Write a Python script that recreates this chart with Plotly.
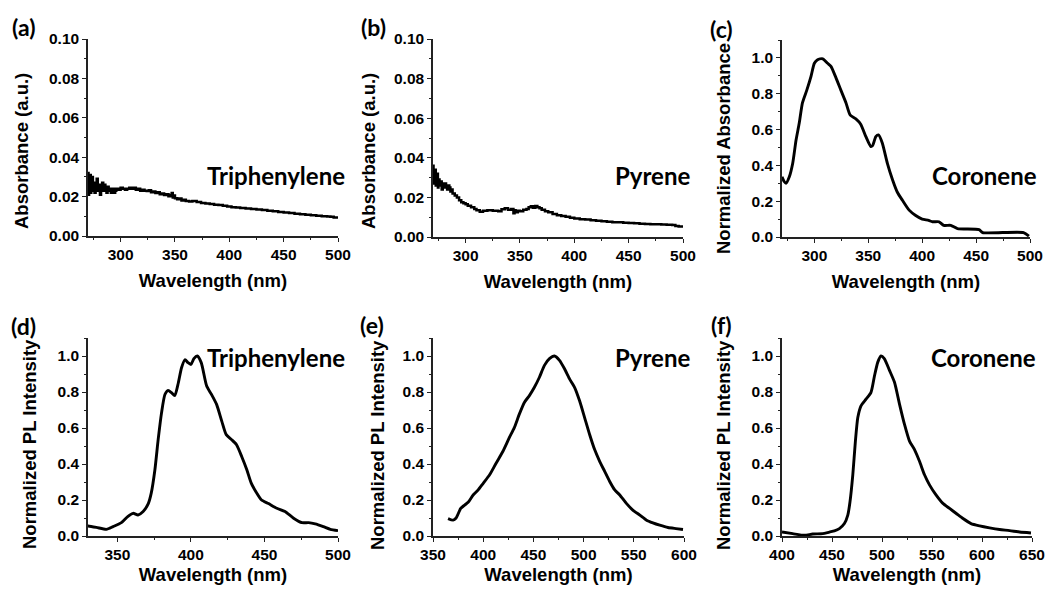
import plotly.graph_objects as go

W, H = 1046, 590

# ---------------- data ----------------
# (a) Triphenylene absorbance
tri_abs_wl = [270, 270.5, 271, 271.5, 272, 272.5, 273, 273.5, 274, 274.5, 275, 276, 277, 278, 279, 280,
              281, 282, 283, 284, 285, 286, 287, 288, 289, 290, 291, 292, 293, 294, 295, 296, 298,
              300, 302, 304, 306, 308, 310, 312, 314, 316, 318, 320, 322, 324, 326, 328, 330, 332,
              334, 336, 338, 340, 342, 344, 346, 347, 348, 349, 350, 352, 354, 356, 358, 360, 363,
              366, 370, 374, 378, 382, 386, 390, 394, 398, 402, 406, 410, 415, 420, 425, 430, 435,
              440, 445, 450, 455, 460, 465, 470, 475, 480, 485, 490, 493, 496, 500]
tri_abs = [0.032, 0.021, 0.030, 0.024, 0.031, 0.022, 0.028, 0.025, 0.030, 0.023, 0.027, 0.022, 0.026,
           0.029, 0.023, 0.026, 0.021, 0.025, 0.027, 0.023, 0.026, 0.024, 0.022, 0.025, 0.023, 0.024,
           0.022, 0.023, 0.024, 0.022, 0.023, 0.024, 0.0235,
           0.0245, 0.024, 0.0235, 0.024, 0.0245, 0.024, 0.0245, 0.0235, 0.024, 0.023, 0.0235, 0.023,
           0.0228, 0.0232, 0.0222, 0.0226, 0.0218, 0.0222, 0.0212, 0.0216, 0.0208, 0.0212, 0.0202,
           0.0208, 0.0218, 0.0196, 0.0205, 0.0192, 0.0186, 0.0190, 0.0180, 0.0184, 0.0178, 0.0175,
           0.0178, 0.0172, 0.0168, 0.0165, 0.0162, 0.0158, 0.0157, 0.0153, 0.0150, 0.0146, 0.0145,
           0.0142, 0.0140, 0.0137, 0.0135, 0.0132, 0.0128, 0.0126, 0.0122, 0.0119, 0.0117, 0.0113,
           0.0111, 0.0108, 0.0105, 0.0103, 0.0100, 0.0099, 0.0098, 0.0094, 0.0092]

# (b) Pyrene absorbance
pyr_abs_wl = [270, 270.5, 271, 271.5, 272, 272.5, 273, 273.5, 274, 274.5, 275, 276, 277, 278, 279, 280,
              281, 282, 283, 284, 285, 286, 287, 288, 290, 292, 294, 296, 298, 300, 302, 305, 308,
              310, 313, 316, 320, 325, 330, 333, 336, 339, 342, 344, 345, 346, 348, 350, 353, 356,
              358, 360, 362, 364, 366, 368, 370, 373, 376, 380, 384, 388, 392, 396, 400, 405, 410,
              415, 420, 425, 430, 435, 440, 445, 450, 455, 460, 465, 470, 475, 480, 485, 490, 493,
              496, 500]
pyr_abs = [0.036, 0.027, 0.033, 0.028, 0.034, 0.026, 0.031, 0.027, 0.032, 0.025, 0.029, 0.026, 0.028,
           0.024, 0.027, 0.025, 0.027, 0.026, 0.024, 0.026, 0.025, 0.023, 0.024, 0.022, 0.021, 0.020,
           0.0185, 0.0175, 0.017, 0.0165, 0.0158, 0.015, 0.0142,
           0.0135, 0.0128, 0.0133, 0.0135, 0.0133, 0.0130, 0.0140, 0.0145, 0.0138, 0.0142, 0.0120,
           0.0135, 0.0125, 0.0133, 0.0130, 0.0138, 0.0142, 0.0150, 0.0155, 0.0148, 0.0156, 0.0150,
           0.0145, 0.0138, 0.0130, 0.0125, 0.0116, 0.0110, 0.0106, 0.0102, 0.0097, 0.0093, 0.0090,
           0.0088, 0.0085, 0.0082, 0.0080, 0.0077, 0.0075, 0.0074, 0.0072, 0.0071, 0.0069, 0.0067,
           0.0066, 0.0065, 0.0064, 0.0063, 0.0062, 0.0060, 0.0056, 0.0053, 0.0050]

# (c) Coronene normalized absorbance
cor_abs_wl = [270, 272, 273.7, 276.8, 279.9, 283, 286, 289, 293, 296.9, 300, 303, 307.7, 312.3, 315.4,
              320, 324.6, 329.3, 333.3, 338.5, 343, 347.8, 352.4, 354, 357, 359.5, 363, 367.8, 372.5,
              377, 381.7, 387.9, 394, 400, 406, 409.5, 415.7, 420, 426.5, 432.7, 452.7, 456, 494,
              499]
cor_abs = [0.336, 0.31, 0.30, 0.336, 0.41, 0.54, 0.636, 0.75, 0.82, 0.897, 0.97, 0.99, 0.995, 0.97,
           0.953, 0.89, 0.82, 0.75, 0.68, 0.66, 0.63, 0.56, 0.505, 0.51, 0.56, 0.57, 0.525, 0.41,
           0.32, 0.25, 0.205, 0.15, 0.12, 0.10, 0.093, 0.085, 0.085, 0.065, 0.065, 0.047, 0.041,
           0.025, 0.025, 0.005]

# (d) Triphenylene PL
tri_pl_wl = [325, 330, 335.7, 342.5, 347, 352.7, 357, 360.7, 364, 367.5, 371, 373, 375.5, 377.7, 380,
             382.3, 384.5, 386.8, 389, 391.4, 393.6, 396, 398, 400, 402, 404.3, 407, 410.7, 414,
             417.5, 421, 424, 427.7, 431, 434.5, 438, 441, 444.8, 448, 452.7, 458.4, 464, 469.8,
             475.5, 480, 484.5, 490, 494.8, 500]
tri_pl = [0.06, 0.056, 0.048, 0.037, 0.052, 0.074, 0.108, 0.126, 0.117, 0.136, 0.18, 0.238, 0.368,
          0.535, 0.684, 0.786, 0.809, 0.796, 0.78, 0.85, 0.935, 0.98, 0.963, 0.953, 0.985, 1.0, 0.963,
          0.833, 0.786, 0.73, 0.637, 0.563, 0.535, 0.507, 0.442, 0.368, 0.294, 0.238, 0.2, 0.18,
          0.154, 0.136, 0.099, 0.074, 0.074, 0.067, 0.052, 0.037, 0.03]

# (e) Pyrene PL
pyr_pl_wl = [365, 370, 373, 377.6, 381.5, 385, 390, 395, 400, 406.4, 413, 419.7, 426, 431, 436, 441,
             446, 451, 456, 461, 466, 471, 476, 481, 486, 491, 496, 501, 506, 511, 516, 521, 526,
             531, 536, 542.6, 549, 556, 562.7, 569, 575.8, 584, 592, 599]
pyr_pl = [0.097, 0.088, 0.1, 0.153, 0.172, 0.187, 0.228, 0.256, 0.293, 0.34, 0.406, 0.471, 0.546,
          0.602, 0.677, 0.742, 0.78, 0.826, 0.882, 0.948, 0.985, 1.0, 0.976, 0.929, 0.873, 0.826,
          0.751, 0.658, 0.564, 0.48, 0.415, 0.359, 0.303, 0.256, 0.228, 0.181, 0.144, 0.116, 0.088,
          0.073, 0.06, 0.047, 0.041, 0.036]

# (f) Coronene PL
cor_pl_wl = [400, 410.7, 422.4, 430.7, 440.7, 447.4, 452.4, 457.4, 462.4, 465.8, 468, 470.8, 473.4,
             475.8, 479, 484, 489, 492.5, 495.8, 499, 502.3, 507.5, 512.5, 517.5, 522.5, 527.5, 532.5,
             537.5, 542.5, 547.5, 554, 560.9, 567.6, 574.3, 581, 589, 597.6, 607.6, 617.6, 627.6,
             637.6, 649]
cor_pl = [0.022, 0.013, 0.004, 0.011, 0.013, 0.022, 0.028, 0.041, 0.069, 0.116, 0.19, 0.34, 0.527,
          0.658, 0.723, 0.76, 0.798, 0.89, 0.966, 1.0, 0.985, 0.92, 0.854, 0.733, 0.62, 0.527, 0.48,
          0.415, 0.34, 0.284, 0.228, 0.181, 0.153, 0.125, 0.097, 0.069, 0.056, 0.045, 0.036, 0.030,
          0.022, 0.017]

panel_labels = ["(a)", "(b)", "(c)", "(d)", "(e)", "(f)"]
compound_names = ["Triphenylene", "Pyrene", "Coronene", "Triphenylene", "Pyrene", "Coronene"]
y_titles = ["Absorbance (a.u.)", "Absorbance (a.u.)", "Normalized Absorbance",
            "Normalized PL Intensity", "Normalized PL Intensity", "Normalized PL Intensity"]
x_title = "Wavelength (nm)"

# ---------------- layout geometry (pixels) ----------------
boxes = [  # x0, x1, y0(top), y1(bottom)
    (88, 338, 39, 236),
    (433, 683, 39, 237),
    (782, 1030, 40, 237),
    (88, 338, 338, 536),
    (433, 684, 338, 536),
    (782, 1032, 338, 536),
]
x_ranges = [(270, 500), (270, 500), (270, 500), (330, 500), (350, 600), (400, 650)]
y_ranges = [(0, 0.10), (0, 0.10), (0, 1.1), (0, 1.1), (0, 1.1), (0, 1.1)]
y_dticks = [0.02, 0.02, 0.2, 0.2, 0.2, 0.2]
y_formats = [".2f", ".2f", ".1f", ".1f", ".1f", ".1f"]
label_pos = [(23, 27), (373, 27), (721, 29), (23, 326), (372, 325), (721, 325)]
name_pos = [(347, 176), (692, 175), (1039, 176), (347, 357), (692, 357), (1038, 357)]
ytitle_pos = [(21, 151), (368, 151), (723, 149), (29, 444), (377, 445), (723, 445)]
xtitle_standoff = [12, 12, 12, 6, 6, 6]

series = [(tri_abs_wl, tri_abs, "hv"), (pyr_abs_wl, pyr_abs, "hv"), (cor_abs_wl, cor_abs, "spline"),
          (tri_pl_wl, tri_pl, "spline"), (pyr_pl_wl, pyr_pl, "spline"), (cor_pl_wl, cor_pl, "spline")]

fig = go.Figure()
BOLD = dict(family="Liberation Sans, Arial, sans-serif", color="black", weight="bold")
annotations = []
for i in range(6):
    n = "" if i == 0 else str(i + 1)
    x0, x1, y0, y1 = boxes[i]
    wl, val, shape = series[i]
    fig.add_trace(go.Scatter(
        x=wl, y=val, mode="lines", xaxis="x" + n, yaxis="y" + n,
        line=dict(color="black", width=2.9 if shape == "spline" else 2.5, shape=shape,
                  smoothing=0.6 if shape == "spline" else None),
        cliponaxis=True, showlegend=False, hoverinfo="skip"))
    common = dict(showline=True, linecolor="#222", linewidth=1.5, ticks="outside", ticklen=4,
                  tickwidth=1.3, tickcolor="#222", showgrid=False, zeroline=False, mirror=False,
                  automargin=False, tickfont=dict(size=15.5, **BOLD))
    fig.layout["xaxis" + n] = dict(
        domain=[x0 / W, x1 / W], anchor="y" + n, range=list(x_ranges[i]), dtick=50, tick0=0,
        minor=dict(dtick=25, tick0=0, ticks="outside", ticklen=2, tickwidth=1, tickcolor="#222",
                   showgrid=False),
        title=dict(text=x_title, font=dict(size=18.5, **BOLD), standoff=xtitle_standoff[i]),
        **common)
    fig.layout["yaxis" + n] = dict(
        domain=[1 - y1 / H, 1 - y0 / H], anchor="x" + n, range=list(y_ranges[i]),
        dtick=y_dticks[i], tick0=0, tickformat=y_formats[i],
        minor=dict(dtick=y_dticks[i] / 2, tick0=0, ticks="outside", ticklen=2, tickwidth=1,
                   tickcolor="#222", showgrid=False),
        **common)
    tx, ty = ytitle_pos[i]
    annotations.append(dict(text=y_titles[i], x=tx / W, y=1 - ty / H, xref="paper", yref="paper",
                            xanchor="center", yanchor="middle", textangle=-90, showarrow=False,
                            font=dict(size=18.5, **BOLD)))
    lx, ly = label_pos[i]
    annotations.append(dict(text=panel_labels[i], x=lx / W, y=1 - ly / H, xref="paper",
                            yref="paper", xanchor="center", yanchor="middle", showarrow=False,
                            font=dict(family="Lato, sans-serif", size=23, color="black",
                                      weight="bold")))
    nx, ny = name_pos[i]
    annotations.append(dict(text=compound_names[i], x=nx / W, y=1 - ny / H, xref="paper",
                            yref="paper", xanchor="right", yanchor="middle", showarrow=False,
                            font=dict(family="Lato, sans-serif", size=24, color="black",
                                      weight="bold")))

fig.update_layout(width=W, height=H, margin=dict(l=0, r=0, t=0, b=0),
                  paper_bgcolor="white", plot_bgcolor="white", annotations=annotations)
fig.write_html("out.html")
